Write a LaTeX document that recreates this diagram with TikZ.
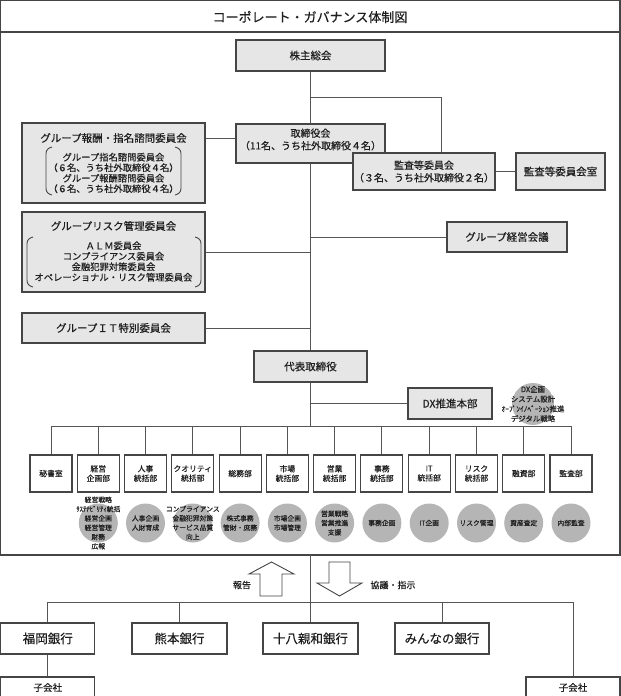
\documentclass[tikz,border=0pt]{standalone}
\usepackage{fontspec}
\setmainfont{Noto Sans CJK JP}[FakeBold=0.35]
\definecolor{boxfill}{HTML}{E6E6E6}
\definecolor{boxline}{HTML}{454545}
\definecolor{linec}{HTML}{555555}
\definecolor{circg}{HTML}{B5B5B5}
\definecolor{txt}{HTML}{1E1E1E}
\begin{document}
\begin{tikzpicture}[x=1pt,y=-1pt,
  lnk/.style={draw=linec, line width=0.9pt},
  frame/.style={draw=boxline, line width=1.4pt},
  gbox/.style={draw=boxline, line width=1.2pt, fill=boxfill, inner sep=0pt, align=center, text=txt},
  wbox/.style={draw=boxline, line width=1.1pt, fill=white, inner sep=0pt, align=center, text=txt},
  sz/.style 2 args={minimum width=#1pt, minimum height=#2pt},
  fbig/.style={font={\fontsize{10.5}{13}\selectfont}},
  fmid/.style={font={\fontsize{10}{12.5}\selectfont}},
  fin/.style={font={\fontsize{9.3}{10.5}\selectfont}},
  fdep/.style={font={\fontsize{7.8}{9.5}\selectfont}},
  fcir/.style={font={\fontsize{6.8}{9.3}\selectfont}},
  fbank/.style={font={\fontsize{12.5}{15}\selectfont}},
  circ/.style={circle, fill=circg, draw=none, minimum size=39pt, inner sep=0pt},
  ctext/.style={fcir, align=center, text=txt, inner sep=0pt},
  brk/.style={draw=boxline, line width=0.9pt},
  arr/.style={draw=boxline, line width=0.9pt, fill=white, line join=miter}]
\useasboundingbox (0,0) rectangle (621,696);
\clip (0,0) rectangle (621,696);

% frame and title
\draw[frame] (0.7,0.7) rectangle (619.8,555);
\draw[frame] (0.7,32) -- (619.8,32);
\node[text=txt, font={\fontsize{13}{15}\selectfont}] (title) at (310,17) {コーポレート・ガバナンス体制図};

% helper coordinates
\coordinate (r1) at (0,97);
\coordinate (r2) at (0,138);
\coordinate (kx) at (441,0);
\coordinate (rowy) at (0,426);
\coordinate (banky) at (0,602);
\coordinate (fb) at (310.5,555);

% upper boxes
\node[gbox, sz={149}{31}, fbig] (kabu) at (310.5,55.5) {株主総会};
\node[gbox, sz={149}{39}] (tori) at (310.5,143.5) {};
\node[fmid, text=txt, align=center, inner sep=0pt] (torit) at (310.5,139.5) {取締役会\\（11名、うち社外取締役４名）};
\node[gbox, sz={142}{37}, fmid] (kansa) at (424,171.5) {監査等委員会\\（３名、うち社外取締役２名）};
\node[gbox, sz={89}{37}, fbig] (kansashitsu) at (560.5,171.5) {監査等委員会室};

\node[gbox, sz={183}{80}] (hoshu) at (113.5,163) {};
\node[fbig, text=txt, inner sep=0pt] (hoshut) at (113.5,138) {グループ報酬・指名諮問委員会};
\node[fin, text=txt, align=center, inner sep=0pt] (hoshui) at (113.5,173) {グループ指名諮問委員会\\（６名、うち社外取締役４名）\\グループ報酬諮問委員会\\（６名、うち社外取締役４名）};
\draw[brk] (52,147) .. controls (48,148) and (46,150) .. (46,154) -- (46,188) .. controls (46,192) and (48,194) .. (52,195);
\draw[brk] (175,147) .. controls (179,148) and (181,150) .. (181,154) -- (181,188) .. controls (181,192) and (179,194) .. (175,195);

\node[gbox, sz={183}{80}] (risk) at (113.5,252) {};
\node[fbig, text=txt, inner sep=0pt] (riskt) at (113.5,226) {グループリスク管理委員会};
\node[fin, text=txt, align=center, inner sep=0pt] (riski) at (113.5,261.5) {ＡＬＭ委員会\\コンプライアンス委員会\\金融犯罪対策委員会\\オペレーショナル・リスク管理委員会};
\draw[brk] (33,237) .. controls (29,238) and (27,240) .. (27,244) -- (27,280) .. controls (27,284) and (29,286) .. (33,287);
\draw[brk] (195,237) .. controls (199,238) and (201,240) .. (201,244) -- (201,280) .. controls (201,284) and (199,286) .. (195,287);

\node[gbox, sz={120}{30}, fbig] (keiei) at (507,237) {グループ経営会議};
\node[gbox, sz={183}{30}, fbig] (it) at (113.5,328) {グループＩＴ特別委員会};
\node[gbox, sz={113}{31}, fbig] (daihyo) at (310.5,366.5) {代表取締役};
\node[gbox, sz={84}{31}, fbig] (dx) at (450,403.5) {DX推進本部};
\node[circle, fill=circg, minimum size=42pt, inner sep=0pt] (dxc) at (533,404) {};
\node[ctext, font={\fontsize{7.4}{9.8}\selectfont}] (dxt) at (533,404) {DX企画\\システム設計\\ｵｰﾌﾟﾝｲﾉﾍﾞｰｼｮﾝ推進\\デジタル戦略};

% connectors upper
\draw[lnk] (kabu.south) -- (tori.north);
\draw[lnk] (kabu.south |- r1) -| (kansa.north -| kx);
\draw[lnk] (hoshu.east |- r2) -- (tori.west |- r2);
\draw[lnk] (kansa.east) -- (kansashitsu.west);
\draw[lnk] (tori.south) -- (daihyo.north);
\draw[lnk] (risk.east) -- (risk.east -| daihyo.north);
\draw[lnk] (keiei.west -| daihyo.north) -- (keiei.west);
\draw[lnk] (it.east) -- (it.east -| daihyo.north);
\draw[lnk] (daihyo.south) -- (daihyo.south |- rowy);
\draw[lnk] (dx.west -| daihyo.south) -- (dx.west);

% departments
\node[wbox, sz={42}{37}, fdep] (d1) at (51,473.5) {秘書室};
\node[wbox, sz={42}{37}, fdep] (d2) at (98.3,473.5) {経営\\企画部};
\node[wbox, sz={42}{37}, fdep] (d3) at (145.5,473.5) {人事\\統括部};
\node[wbox, sz={42}{37}, fdep] (d4) at (192.8,473.5) {クオリティ\\統括部};
\node[wbox, sz={42}{37}, fdep] (d5) at (240.1,473.5) {総務部};
\node[wbox, sz={42}{37}, fdep] (d6) at (287.4,473.5) {市場\\統括部};
\node[wbox, sz={42}{37}, fdep] (d7) at (334.6,473.5) {営業\\統括部};
\node[wbox, sz={42}{37}, fdep] (d8) at (381.9,473.5) {事務\\統括部};
\node[wbox, sz={42}{37}, fdep] (d9) at (429.2,473.5) {IT\\統括部};
\node[wbox, sz={42}{37}, fdep] (d10) at (476.5,473.5) {リスク\\統括部};
\node[wbox, sz={42}{37}, fdep] (d11) at (523.7,473.5) {融資部};
\node[wbox, sz={42}{37}, fdep] (d12) at (571,473.5) {監査部};
\draw[lnk] (d1.north |- rowy) -- (d12.north |- rowy);
\foreach \i in {1,...,12} {\draw[lnk] (d\i.north |- rowy) -- (d\i.north);}

% circles
\node[circ] (c2) at (98.3,523) {};
\node[circ] (c3) at (145.5,523) {};
\node[circ] (c4) at (192.8,523) {};
\node[circ] (c5) at (240.1,523) {};
\node[circ] (c6) at (287.4,523) {};
\node[circ] (c7) at (334.6,523) {};
\node[circ] (c8) at (381.9,523) {};
\node[circ] (c9) at (429.2,523) {};
\node[circ] (c10) at (476.5,523) {};
\node[circ] (c11) at (523.7,523) {};
\node[circ] (c12) at (571,523) {};
\node[ctext] (t2) at (c2) {経営戦略\\ｻｽﾃﾅﾋﾞﾘﾃｨ統括\\経営企画\\経営管理\\財務\\広報};
\node[ctext] (t3) at (c3) {人事企画\\人財育成};
\node[ctext] (t4) at (c4) {コンプライアンス\\金融犯罪対策\\サービス品質\\向上};
\node[ctext] (t5) at (c5) {株式事務\\管財・庶務};
\node[ctext] (t6) at (c6) {市場企画\\市場管理};
\node[ctext] (t7) at (c7) {営業戦略\\営業推進\\支援};
\node[ctext] (t8) at (c8) {事務企画};
\node[ctext] (t9) at (c9) {IT企画};
\node[ctext] (t10) at (c10) {リスク管理};
\node[ctext] (t11) at (c11) {資産査定};
\node[ctext] (t12) at (c12) {内部監査};

% block arrows and labels
\draw[arr] (260,596) -- (260,574) -- (249,574) -- (271.5,562) -- (294,574) -- (282,574) -- (282,596) -- cycle;
\draw[arr] (329,562) -- (350,562) -- (350,583) -- (362,583) -- (339.5,596) -- (317,583) -- (329,583) -- cycle;
\node[text=txt, font={\fontsize{9}{11}\selectfont}] (hokoku) at (242,585) {報告};
\node[text=txt, font={\fontsize{9}{11}\selectfont}] (kyogi) at (393,585) {協議・指示};

% banks
\node[wbox, sz={94}{31}, fbank] (fukuoka) at (47.8,638.5) {福岡銀行};
\node[wbox, sz={95}{31}, fbank] (kumamoto) at (179.5,638.5) {熊本銀行};
\node[wbox, sz={95}{31}, fbank] (juhachi) at (310.5,638.5) {十八親和銀行};
\node[wbox, sz={94}{31}, fbank] (minna) at (442,638.5) {みんなの銀行};
\node[wbox, sz={94}{21}, font={\fontsize{9.5}{11}\selectfont}] (ko1) at (47.8,687.5) {子会社};
\node[wbox, sz={94}{21}, font={\fontsize{9.5}{11}\selectfont}] (ko2) at (573,687.5) {子会社};
\draw[lnk] (fb) -- (juhachi.north);
\draw[lnk] (fukuoka.north |- banky) -- (ko2.north |- banky);
\draw[lnk] (fukuoka.north |- banky) -- (fukuoka.north);
\draw[lnk] (kumamoto.north |- banky) -- (kumamoto.north);
\draw[lnk] (minna.north |- banky) -- (minna.north);
\draw[lnk] (ko2.north |- banky) -- (ko2.north);
\draw[lnk] (fukuoka.south) -- (ko1.north);
\end{tikzpicture}
\end{document}
